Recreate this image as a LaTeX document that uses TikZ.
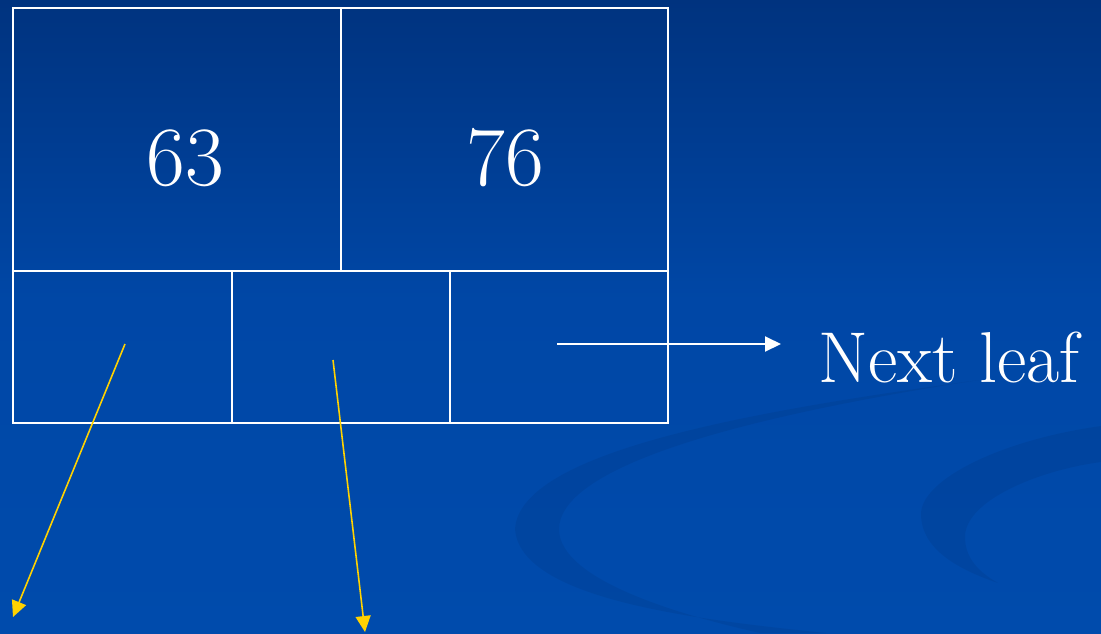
\documentclass[tikz,border=0pt]{standalone}
\usetikzlibrary{arrows.meta}
\definecolor{bgtop}{HTML}{00337F}
\definecolor{bgmid}{HTML}{0047A6}
\definecolor{bgbot}{HTML}{004BAC}
\definecolor{ptr}{HTML}{FFD200}
\tikzset{
  cellbox/.style={draw=white, line width=1.1pt},
  keytext/.style={text=white, font=\fontsize{48}{56}\selectfont},
  labeltext/.style={text=white, font=\fontsize{41}{48}\selectfont, anchor=west},
  nextarrow/.style={draw=white, line width=1.1pt, -{Triangle[length=0.32cm,width=0.3cm]}},
  childarrow/.style={draw=ptr, line width=0.9pt, -{Triangle[length=0.32cm,width=0.3cm]}},
  swirl/.style={fill=black, fill opacity=0.055, draw=none}
}
\begin{document}
\begin{tikzpicture}[x=0.02cm,y=-0.02cm]
\useasboundingbox (0,0) rectangle (1101,633);
% background
\shade[top color=bgtop, bottom color=bgmid, draw=none] (0,0) rectangle (1101,300);
\shade[top color=bgmid, bottom color=bgbot, draw=none] (0,299) rectangle (1101,633);
% swirls
\path[swirl] (979,380) .. controls (760,410) and (520,450) .. (515,529)
  .. controls (520,600) and (700,620) .. (826,633) -- (760,633)
  .. controls (680,615) and (559,580) .. (559,529)
  .. controls (560,470) and (720,420) .. (979,380) -- cycle;
\path[swirl] (1101,426) .. controls (1000,440) and (921,480) .. (921,514)
  .. controls (921,550) and (960,570) .. (998,583)
  .. controls (975,570) and (965,555) .. (965,537)
  .. controls (965,500) and (1040,470) .. (1101,462) -- cycle;
% cells
\node[cellbox, minimum width=328*0.02cm, minimum height=263*0.02cm, inner sep=0pt] (k1) at (177,139.5) {};
\node[cellbox, minimum width=327*0.02cm, minimum height=263*0.02cm, inner sep=0pt] (k2) at (504.5,139.5) {};
\node[cellbox, minimum width=219*0.02cm, minimum height=152*0.02cm, inner sep=0pt] (p1) at (122.5,347) {};
\node[cellbox, minimum width=218*0.02cm, minimum height=152*0.02cm, inner sep=0pt] (p2) at (341,347) {};
\node[cellbox, minimum width=218*0.02cm, minimum height=152*0.02cm, inner sep=0pt] (p3) at (559,347) {};
% keys
\node[keytext] (t63) at (185,158) {63};
\node[keytext] (t76) at (505,158) {76};
% next leaf
\node[labeltext] (next) at (812,357) {Next leaf};
% arrow anchors
\coordinate (s1) at (125,344);
\coordinate (e1) at (13,617);
\coordinate (s2) at (333,360);
\coordinate (e2) at (365,632);
\coordinate (s3) at (557,344);
\coordinate (e3) at (781,344);
\draw[childarrow] (s1) -- (e1);
\draw[childarrow] (s2) -- (e2);
\draw[nextarrow] (s3) -- (e3);
\end{tikzpicture}
\end{document}
